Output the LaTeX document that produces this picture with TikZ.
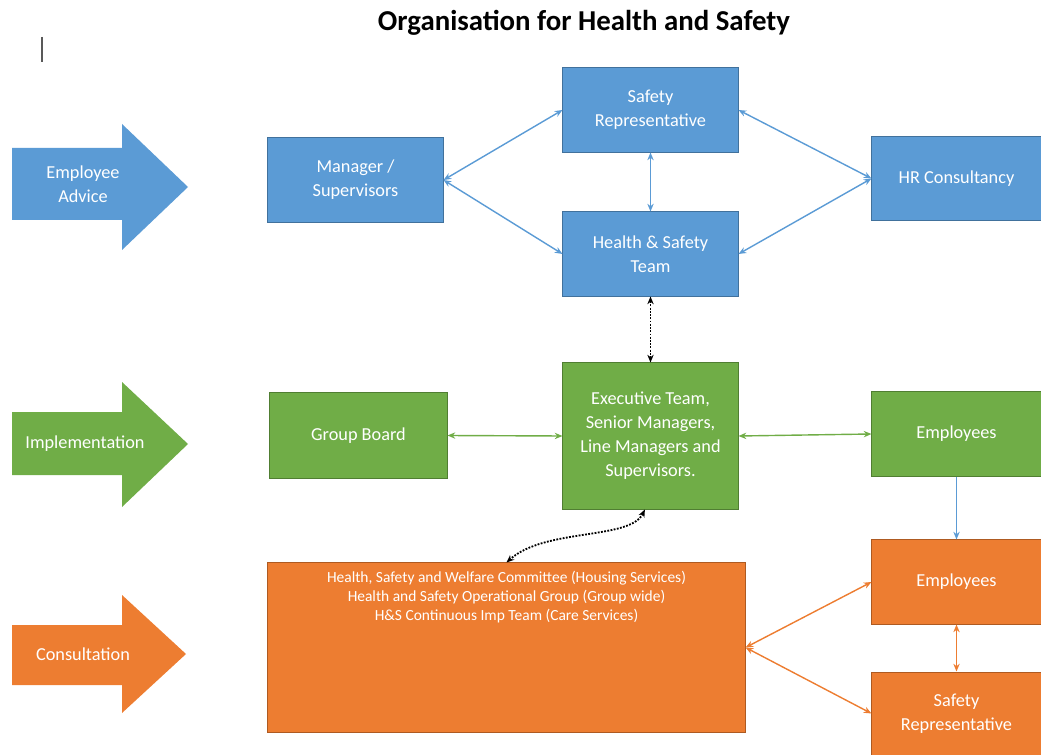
\documentclass[tikz,border=0pt]{standalone}
\usepackage{fontspec}
\setmainfont{Carlito}
\usetikzlibrary{arrows.meta, positioning}
\definecolor{hsblue}{HTML}{5B9BD5}
\definecolor{hsblueline}{HTML}{41719C}
\definecolor{hsgreen}{HTML}{70AD47}
\definecolor{hsgreenline}{HTML}{507E32}
\definecolor{hsorange}{HTML}{ED7D31}
\definecolor{hsorangeline}{HTML}{AE5A21}
\tikzset{
  box/.style={
    rectangle, text=white, align=center,
    inner sep=2pt, line width=0.7pt,
    font=\fontsize{13}{17}\selectfont
  },
  bbox/.style  = {box, fill=hsblue,   draw=hsblueline},
  gbox/.style  = {box, fill=hsgreen,  draw=hsgreenline},
  obox/.style  = {box, fill=hsorange, draw=hsorangeline},
  mid/.style   = {minimum width=4.375cm, minimum height=2.1cm},
  side/.style  = {minimum width=4.225cm, minimum height=2.1cm},
  lbl/.style   = {text=white, align=center, font=\fontsize{13}{17}\selectfont},
  small/.style = {text=white, align=center, font=\fontsize{11}{13.5}\selectfont},
  lnk/.style   = {{Stealth[length=5.5pt,width=4.5pt]}-{Stealth[length=5.5pt,width=4.5pt]}, line width=1pt},
  one/.style   = {-{Stealth[length=5.5pt,width=4.5pt]}, line width=1pt},
  dots/.style  = {lnk, black, line width=1.3pt, densely dotted},
}

\begin{document}
\begin{tikzpicture}[x=0.025cm, y=-0.025cm]
  \useasboundingbox (0,0) rectangle (1041,755);

  % ── Title ──────────────────────────────────────────────────────────────────
  \node[font=\fontsize{20.5}{24}\selectfont\bfseries] (title) at (584,23) {Organisation for Health and Safety};
  \draw[gray!70!black, line width=1pt] (42,37) -- (42,62);

  % ── Side arrows ────────────────────────────────────────────────────────────
  \fill[hsblue]   (12,148) -- (122,148) -- (122,124) -- (188,187) -- (122,250) -- (122,220) -- (12,220) -- cycle;
  \fill[hsgreen]  (12,412) -- (122,412) -- (122,382) -- (188,444) -- (122,507) -- (122,475) -- (12,475) -- cycle;
  \fill[hsorange] (12,625) -- (122,625) -- (122,595) -- (186,654) -- (122,713) -- (122,685) -- (12,685) -- cycle;
  \node[lbl] (advice)  at (83,184) {Employee\\Advice};
  \node[lbl] (implem)  at (85,444) {Implementation};
  \node[lbl] (consult) at (83,654) {Consultation};

  % ── Employee advice row ────────────────────────────────────────────────────
  \node[bbox, mid]  (srep) at (650.5,110)   {Safety\\Representative};
  \node[bbox, mid]  (hst)  at (650.5,254)   {Health \& Safety\\Team};
  \node[bbox, mid]  (mgr)  at (355.5,180)   {Manager /\\Supervisors};
  \node[bbox, side] (hr)   at (956.5,178.5) {HR Consultancy};

  % ── Implementation row ─────────────────────────────────────────────────────
  \node[gbox, minimum width=4.425cm, minimum height=2.125cm] (gb) at (358.5,435.5) {Group Board};
  \node[gbox, mid, minimum height=3.65cm] (exec) at (650.5,436)
       {Executive Team,\\Senior Managers,\\Line Managers and\\Supervisors.};
  \node[gbox, side] (empg) at (956.5,434) {Employees};

  % ── Consultation row ───────────────────────────────────────────────────────
  \node[obox, minimum width=11.925cm, minimum height=4.225cm] (hsw) at (506.5,647.5) {};
  \node[small, below=3pt of hsw.north] (hswtxt)
       {Health, Safety and Welfare Committee (Housing Services)\\
        Health and Safety Operational Group (Group wide)\\
        H\&S Continuous Imp Team (Care Services)};
  \node[obox, side] (empo)  at (956.5,582)   {Employees};
  \node[obox, side, minimum height=2.075cm] (srepo) at (956.5,713.5) {Safety\\Representative};

  % ── Blue links ─────────────────────────────────────────────────────────────
  \draw[lnk, hsblue] (mgr.east)  -- (srep.west);
  \draw[lnk, hsblue] (mgr.east)  -- (hst.west);
  \draw[lnk, hsblue] (srep.south) -- (hst.north);
  \draw[lnk, hsblue] (hr.west)   -- (srep.east);
  \draw[lnk, hsblue] (hr.west)   -- (hst.east);

  % ── Dotted links between rows ──────────────────────────────────────────────
  \draw[dots] (hst.south) -- (exec.north);
  \draw[dots] ([xshift=-4pt]exec.south) .. controls (630,540) and (545,528) .. (hsw.north);

  % ── Green links ────────────────────────────────────────────────────────────
  \draw[lnk, hsgreen] (gb.east)   -- (exec.west);
  \draw[lnk, hsgreen] (exec.east) -- (empg.west);
  \draw[one, hsblue]  (empg.south) -- (empo.north);

  % ── Orange links ───────────────────────────────────────────────────────────
  \draw[lnk, hsorange] (hsw.east)   -- (empo.west);
  \draw[lnk, hsorange] (hsw.east)   -- (srepo.west);
  \draw[lnk, hsorange] (empo.south) -- (srepo.north);

\end{tikzpicture}
\end{document}
